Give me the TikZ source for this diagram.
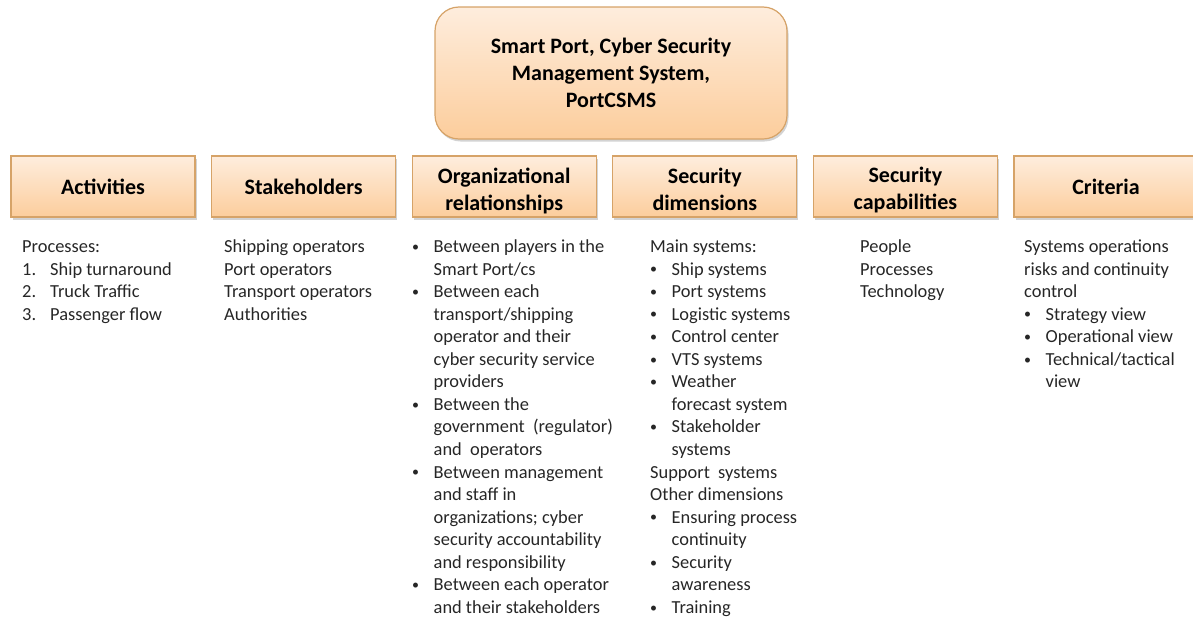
\documentclass[tikz,border=0pt]{standalone}
\usepackage{fontspec}
\setmainfont{Carlito}
\usepackage{tikz}
\usetikzlibrary{
	positioning,
	shadows,
}
\definecolor{boxtop}{RGB}{254,237,221}
\definecolor{boxbot}{RGB}{252,205,156}
\definecolor{boxline}{RGB}{214,163,104}
\definecolor{bodytext}{RGB}{38,38,38}

\tikzset{
	head box/.style={
		draw=boxline,
		line width=1.2pt,
		top color=boxtop,
		bottom color=boxbot,
		minimum width=184pt,
		minimum height=61pt,
		inner sep=0pt,
		align=center,
		font=\fontsize{22}{27}\selectfont\bfseries,
		drop shadow={shadow xshift=1.5pt, shadow yshift=-2.5pt, opacity=0.35},
	},
	head text/.style={
		inner sep=0pt,
		align=center,
		font=\fontsize{22}{27}\selectfont\bfseries,
	},
	top box/.style={
		head box,
		rounded corners=24pt,
		minimum width=352pt,
		minimum height=132pt,
	},
	body text/.style={
		anchor=base west,
		inner sep=0pt,
		text=bodytext,
		font=\fontsize{18.4}{22.55}\selectfont,
	},
}
\newcommand{\dotmark}{\raisebox{1.2pt}{\fontsize{14}{14}\selectfont\textbullet}}
\newcommand{\itm}[1]{\makebox[21.5pt][l]{\dotmark}#1}
\newcommand{\cnt}[1]{\hspace*{21.5pt}#1}
\newcommand{\num}[2]{\makebox[28pt][l]{#1.}#2}
\newenvironment{lines}{\begin{tabular}[t]{@{}l@{}}}{\end{tabular}}

\begin{document}
\begin{tikzpicture}[x=1pt,y=-1pt]
\useasboundingbox (0,0) rectangle (1193,616);

\node[top box](port) at(611,73) {Smart Port, Cyber Security\\Management System,\\PortCSMS};

% header boxes
\foreach[count=\i] \t/\dy in {
	Activities/0,
	Stakeholders/0,
	{Organizational\\relationships}/4,
	{Security\\dimensions}/3,
	{Security\\capabilities}/4,
	Criteria/0%
}{
	\node[head box](h\i) at({103+200.6*(\i-1)},186.5) {};
	\node[head text](t\i) at([yshift=-\dy pt]h\i.center) {\t};
}

% text under the boxes
\node[body text](act) at(22,252.5) {\begin{lines}
	Processes:\\
	\num{1}{Ship turnaround}\\
	\num{2}{Truck Traffic}\\
	\num{3}{Passenger flow}
\end{lines}};

\node[body text](stk) at(224,252.5) {\begin{lines}
	Shipping operators\\
	Port operators\\
	Transport operators\\
	Authorities
\end{lines}};

\node[body text](org) at(412,252.5) {\begin{lines}
	\itm{Between players in the}\\
	\cnt{Smart Port/cs}\\
	\itm{Between each}\\
	\cnt{transport/shipping}\\
	\cnt{operator and their}\\
	\cnt{cyber security service}\\
	\cnt{providers}\\
	\itm{Between the}\\
	\cnt{government\ \ (regulator)}\\
	\cnt{and\ \ operators}\\
	\itm{Between management}\\
	\cnt{and staff in}\\
	\cnt{organizations; cyber}\\
	\cnt{security accountability}\\
	\cnt{and responsibility}\\
	\itm{Between each operator}\\
	\cnt{and their stakeholders}
\end{lines}};

\node[body text](dim) at(650,252.5) {\begin{lines}
	Main systems:\\
	\itm{Ship systems}\\
	\itm{Port systems}\\
	\itm{Logistic systems}\\
	\itm{Control center}\\
	\itm{VTS systems}\\
	\itm{Weather}\\
	\cnt{forecast system}\\
	\itm{Stakeholder}\\
	\cnt{systems}\\
	Support\ \ systems\\
	Other dimensions\\
	\itm{Ensuring process}\\
	\cnt{continuity}\\
	\itm{Security}\\
	\cnt{awareness}\\
	\itm{Training}
\end{lines}};

\node[body text](cap) at(860,252.5) {\begin{lines}
	People\\
	Processes\\
	Technology
\end{lines}};

\node[body text](crit) at(1024,252.5) {\begin{lines}
	Systems operations\\
	risks and continuity\\
	control\\
	\itm{Strategy view}\\
	\itm{Operational view}\\
	\itm{Technical/tactical}\\
	\cnt{view}
\end{lines}};

\end{tikzpicture}
\end{document}
